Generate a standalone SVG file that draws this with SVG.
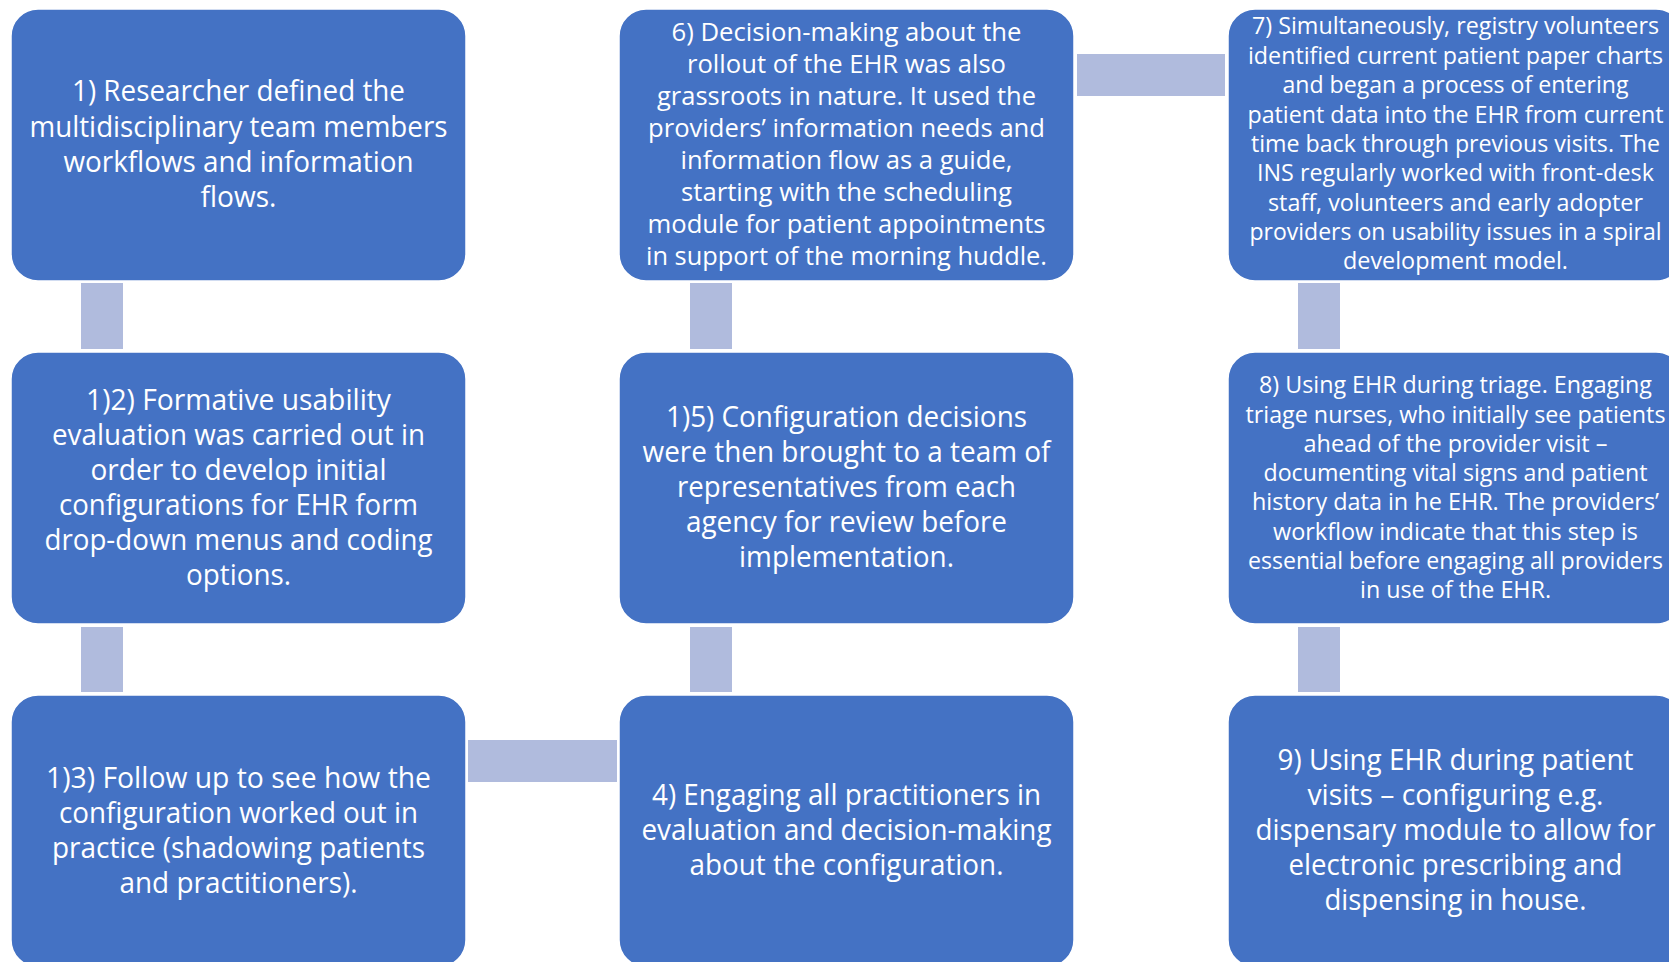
<svg xmlns="http://www.w3.org/2000/svg" width="1669" height="962" viewBox="0 0 1669 962">
<style>
.box{fill:#4472C4;stroke:#ffffff;stroke-width:1.5}
.con{fill:#B0BBDD}
text{font-family:"Open Sans","Noto Sans","DejaVu Sans",sans-serif;fill:#ffffff;text-anchor:middle}
.l{font-size:28.6px}
.m{font-size:26px}
.s{font-size:23.8px}
</style>
<rect width="1669" height="962" fill="#ffffff"/>
<g id="connectors">
<rect class="con" x="81" y="283" width="42" height="66"/>
<rect class="con" x="81" y="627" width="42" height="65"/>
<rect class="con" x="468" y="740" width="149" height="42"/>
<rect class="con" x="690" y="627" width="42" height="65"/>
<rect class="con" x="690" y="283" width="42" height="66"/>
<rect class="con" x="1077" y="54" width="148" height="42"/>
<rect class="con" x="1298" y="283" width="42" height="66"/>
<rect class="con" x="1298" y="627" width="42" height="65"/>
</g>
<g id="node1">
<rect class="box" x="11" y="9" width="455" height="272" rx="27"/>
<text class="l"><tspan x="238.5" y="101" textLength="333" lengthAdjust="spacingAndGlyphs">1) Researcher defined the</tspan><tspan x="238.5" y="136.5" textLength="418" lengthAdjust="spacingAndGlyphs">multidisciplinary team members</tspan><tspan x="238.5" y="172" textLength="350" lengthAdjust="spacingAndGlyphs">workflows and information</tspan><tspan x="238.5" y="207" textLength="76" lengthAdjust="spacingAndGlyphs">flows.</tspan></text>
</g>
<g id="node2">
<rect class="box" x="11" y="352" width="455" height="272" rx="27"/>
<text class="l"><tspan x="238.5" y="410" textLength="305" lengthAdjust="spacingAndGlyphs">1)2) Formative usability</tspan><tspan x="238.5" y="445" textLength="373" lengthAdjust="spacingAndGlyphs">evaluation was carried out in</tspan><tspan x="238.5" y="480" textLength="296" lengthAdjust="spacingAndGlyphs">order to develop initial</tspan><tspan x="238.5" y="515" textLength="359" lengthAdjust="spacingAndGlyphs">configurations for EHR form</tspan><tspan x="238.5" y="550" textLength="388" lengthAdjust="spacingAndGlyphs">drop-down menus and coding</tspan><tspan x="238.5" y="585" textLength="105" lengthAdjust="spacingAndGlyphs">options.</tspan></text>
</g>
<g id="node3">
<rect class="box" x="11" y="695" width="455" height="272" rx="27"/>
<text class="l"><tspan x="238.5" y="788" textLength="385" lengthAdjust="spacingAndGlyphs">1)3) Follow up to see how the</tspan><tspan x="238.5" y="823" textLength="359" lengthAdjust="spacingAndGlyphs">configuration worked out in</tspan><tspan x="238.5" y="858" textLength="373" lengthAdjust="spacingAndGlyphs">practice (shadowing patients</tspan><tspan x="238.5" y="893" textLength="238" lengthAdjust="spacingAndGlyphs">and practitioners).</tspan></text>
</g>
<g id="node4">
<rect class="box" x="619" y="695" width="455" height="272" rx="27"/>
<text class="l"><tspan x="846.5" y="805" textLength="389" lengthAdjust="spacingAndGlyphs">4) Engaging all practitioners in</tspan><tspan x="846.5" y="840" textLength="410" lengthAdjust="spacingAndGlyphs">evaluation and decision-making</tspan><tspan x="846.5" y="875" textLength="314" lengthAdjust="spacingAndGlyphs">about the configuration.</tspan></text>
</g>
<g id="node5">
<rect class="box" x="619" y="352" width="455" height="272" rx="27"/>
<text class="l"><tspan x="846.5" y="427" textLength="361" lengthAdjust="spacingAndGlyphs">1)5) Configuration decisions</tspan><tspan x="846.5" y="462" textLength="408" lengthAdjust="spacingAndGlyphs">were then brought to a team of</tspan><tspan x="846.5" y="497" textLength="339" lengthAdjust="spacingAndGlyphs">representatives from each</tspan><tspan x="846.5" y="532" textLength="321" lengthAdjust="spacingAndGlyphs">agency for review before</tspan><tspan x="846.5" y="567" textLength="215" lengthAdjust="spacingAndGlyphs">implementation.</tspan></text>
</g>
<g id="node6">
<rect class="box" x="619" y="9" width="455" height="272" rx="27"/>
<text class="m"><tspan x="846.5" y="41" textLength="350" lengthAdjust="spacingAndGlyphs">6) Decision-making about the</tspan><tspan x="846.5" y="73" textLength="319" lengthAdjust="spacingAndGlyphs">rollout of the EHR was also</tspan><tspan x="846.5" y="105" textLength="379" lengthAdjust="spacingAndGlyphs">grassroots in nature. It used the</tspan><tspan x="846.5" y="137" textLength="397" lengthAdjust="spacingAndGlyphs">providers’ information needs and</tspan><tspan x="846.5" y="169" textLength="332" lengthAdjust="spacingAndGlyphs">information flow as a guide,</tspan><tspan x="846.5" y="201" textLength="331" lengthAdjust="spacingAndGlyphs">starting with the scheduling</tspan><tspan x="846.5" y="233" textLength="398" lengthAdjust="spacingAndGlyphs">module for patient appointments</tspan><tspan x="846.5" y="265" textLength="401" lengthAdjust="spacingAndGlyphs">in support of the morning huddle.</tspan></text>
</g>
<g id="node7">
<rect class="box" x="1228" y="9" width="455" height="272" rx="27"/>
<text class="s"><tspan x="1455.5" y="34" textLength="407" lengthAdjust="spacingAndGlyphs">7) Simultaneously, registry volunteers</tspan><tspan x="1455.5" y="64" textLength="415" lengthAdjust="spacingAndGlyphs">identified current patient paper charts</tspan><tspan x="1455.5" y="93" textLength="346" lengthAdjust="spacingAndGlyphs">and began a process of entering</tspan><tspan x="1455.5" y="123" textLength="416" lengthAdjust="spacingAndGlyphs">patient data into the EHR from current</tspan><tspan x="1455.5" y="152" textLength="409" lengthAdjust="spacingAndGlyphs">time back through previous visits. The</tspan><tspan x="1455.5" y="181" textLength="397" lengthAdjust="spacingAndGlyphs">INS regularly worked with front-desk</tspan><tspan x="1455.5" y="211" textLength="375" lengthAdjust="spacingAndGlyphs">staff, volunteers and early adopter</tspan><tspan x="1455.5" y="240" textLength="412" lengthAdjust="spacingAndGlyphs">providers on usability issues in a spiral</tspan><tspan x="1455.5" y="269" textLength="225" lengthAdjust="spacingAndGlyphs">development model.</tspan></text>
</g>
<g id="node8">
<rect class="box" x="1228" y="352" width="455" height="272" rx="27"/>
<text class="s"><tspan x="1455.5" y="393" textLength="393" lengthAdjust="spacingAndGlyphs">8) Using EHR during triage. Engaging</tspan><tspan x="1455.5" y="423" textLength="420" lengthAdjust="spacingAndGlyphs">triage nurses, who initially see patients</tspan><tspan x="1455.5" y="452" textLength="304" lengthAdjust="spacingAndGlyphs">ahead of the provider visit –</tspan><tspan x="1455.5" y="481" textLength="384" lengthAdjust="spacingAndGlyphs">documenting vital signs and patient</tspan><tspan x="1455.5" y="510" textLength="407" lengthAdjust="spacingAndGlyphs">history data in he EHR. The providers’</tspan><tspan x="1455.5" y="540" textLength="365" lengthAdjust="spacingAndGlyphs">workflow indicate that this step is</tspan><tspan x="1455.5" y="569" textLength="415" lengthAdjust="spacingAndGlyphs">essential before engaging all providers</tspan><tspan x="1455.5" y="598" textLength="191" lengthAdjust="spacingAndGlyphs">in use of the EHR.</tspan></text>
</g>
<g id="node9">
<rect class="box" x="1228" y="695" width="455" height="272" rx="27"/>
<text class="l"><tspan x="1455.5" y="770" textLength="356" lengthAdjust="spacingAndGlyphs">9) Using EHR during patient</tspan><tspan x="1455.5" y="805" textLength="296" lengthAdjust="spacingAndGlyphs">visits – configuring e.g.</tspan><tspan x="1455.5" y="840" textLength="400" lengthAdjust="spacingAndGlyphs">dispensary module to allow for</tspan><tspan x="1455.5" y="875" textLength="334" lengthAdjust="spacingAndGlyphs">electronic prescribing and</tspan><tspan x="1455.5" y="910" textLength="262" lengthAdjust="spacingAndGlyphs">dispensing in house.</tspan></text>
</g>
</svg>
